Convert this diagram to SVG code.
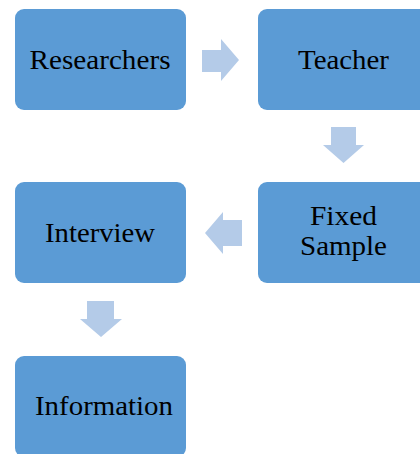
<svg xmlns="http://www.w3.org/2000/svg" width="420" height="454" viewBox="0 0 420 454">
<style>
.box{fill:#5B9BD5;}
.lbl{font-family:"Liberation Serif","Times New Roman",serif;font-size:28px;fill:#000;text-anchor:middle;}
.arr{fill:#B4CBE8;}
</style>
<rect width="420" height="454" fill="#fff"/>
<g id="connectors">
<polygon class="arr" points="202,50 221,50 221,39 239,60 221,81 221,72 202,72"/>
<polygon class="arr" points="331,127 356,127 356,145 364,145 343.5,163 323,145 331,145"/>
<polygon class="arr" points="242,220 223,220 223,212 205,233 223,254 223,246 242,246"/>
<polygon class="arr" points="87,301 114,301 114,319 122,319 101,337 80,319 87,319"/>
</g>
<g id="researchers">
<rect class="box" x="15" y="9" width="171" height="101" rx="9"/>
<text class="lbl" x="100" y="69" textLength="141" lengthAdjust="spacingAndGlyphs">Researchers</text>
</g>
<g id="teacher">
<rect class="box" x="258" y="9" width="175" height="101" rx="9"/>
<text class="lbl" x="343.5" y="69" textLength="91" lengthAdjust="spacingAndGlyphs">Teacher</text>
</g>
<g id="fixed-sample">
<rect class="box" x="258" y="182" width="175" height="101" rx="9"/>
<text class="lbl" x="343.5" y="225" textLength="67" lengthAdjust="spacingAndGlyphs">Fixed</text>
<text class="lbl" x="343.5" y="255" textLength="87" lengthAdjust="spacingAndGlyphs">Sample</text>
</g>
<g id="interview">
<rect class="box" x="15" y="182" width="171" height="101" rx="9"/>
<text class="lbl" x="100" y="242" textLength="110" lengthAdjust="spacingAndGlyphs">Interview</text>
</g>
<g id="information">
<rect class="box" x="15" y="356" width="171" height="101" rx="9"/>
<text class="lbl" x="104" y="415" textLength="138" lengthAdjust="spacingAndGlyphs">Information</text>
</g>
</svg>
